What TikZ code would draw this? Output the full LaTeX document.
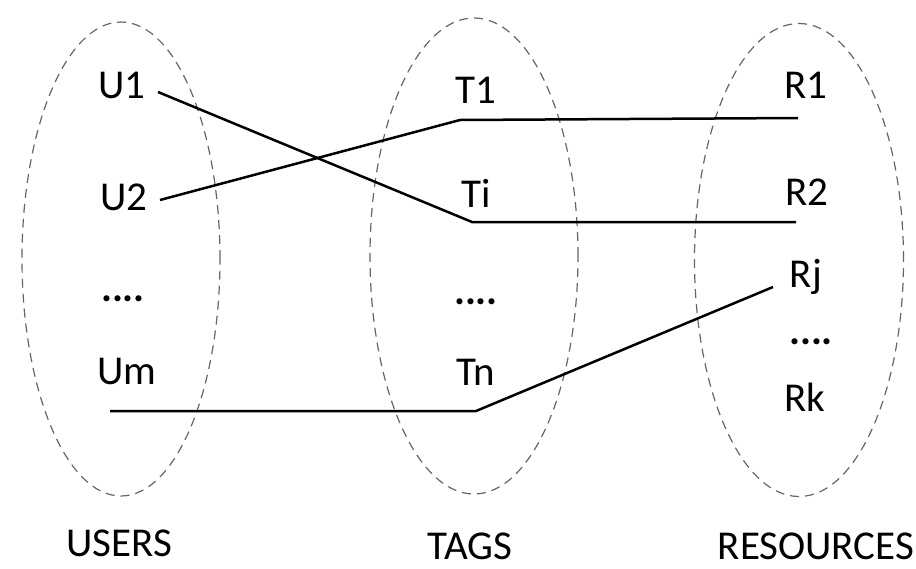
\documentclass[tikz,border=0pt]{standalone}
\usepackage{fontspec}
\setmainfont{Carlito}
\usetikzlibrary{shapes.geometric}

\begin{document}
\begin{tikzpicture}[x=0.5pt,y=-0.5pt]
        \tikzset{SetStyle/.style={ellipse, draw=black!60, line width=0.6pt,
        dash pattern=on 4.5pt off 3pt, inner sep=0pt},
        LabelStyle/.style={anchor=base, inner sep=0pt,
        font=\fontsize{20.5}{24}\selectfont},
        EdgeStyle/.style={line width=1.25pt}}
        \useasboundingbox (0,0) rectangle (916,568);
        \node[SetStyle, minimum width=99pt, minimum height=237pt] (users) at (121,259) {};
        \node[SetStyle, minimum width=104pt, minimum height=238pt] (tags) at (474,256) {};
        \node[SetStyle, minimum width=104.5pt, minimum height=236.5pt] (resources) at (799,260) {};
        \node[LabelStyle] (U1) at (122,98) {U1};
        \node[LabelStyle] (U2) at (124,210) {U2};
        \node[LabelStyle] (Udots) at (123,301) {\textbf{....}};
        \node[LabelStyle] (Um) at (127,384) {Um};
        \node[LabelStyle] (T1) at (476,103) {T1};
        \node[LabelStyle] (Ti) at (476,207) {Ti};
        \node[LabelStyle] (Tdots) at (476,304) {\textbf{....}};
        \node[LabelStyle] (Tn) at (476,385) {Tn};
        \node[LabelStyle] (R1) at (806,98) {R1};
        \node[LabelStyle] (R2) at (807,205) {R2};
        \node[LabelStyle] (Rj) at (806,287) {Rj};
        \node[LabelStyle] (Rdots) at (811,344) {\textbf{....}};
        \node[LabelStyle] (Rk) at (805,411) {Rk};
        \node[LabelStyle] (USERS) at (119,556) {USERS};
        \node[LabelStyle] (TAGS) at (470,559) {TAGS};
        \node[LabelStyle] (RESOURCES) at (816,559) {RESOURCES};
        \coordinate (u1) at (158,92);
        \coordinate (u2) at (160,200);
        \coordinate (um) at (110,411);
        \coordinate (t1) at (460,120);
        \coordinate (ti) at (472,222);
        \coordinate (tn) at (476,411);
        \coordinate (r1) at (798,118);
        \coordinate (r2) at (796,222);
        \coordinate (rj) at (773,287);
        \draw[EdgeStyle] (u1) -- (ti) -- (r2);
        \draw[EdgeStyle] (u2) -- (t1) -- (r1);
        \draw[EdgeStyle] (um) -- (tn) -- (rj);
    \end{tikzpicture}
\end{document}
